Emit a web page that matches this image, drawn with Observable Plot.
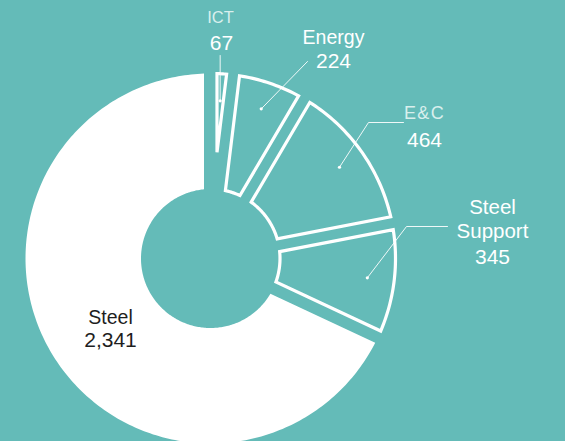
<!DOCTYPE html>
<html><head><meta charset="utf-8">
<script src="https://cdn.jsdelivr.net/npm/d3@7"></script>
<script src="https://cdn.jsdelivr.net/npm/@observablehq/plot@0.6"></script>
<style>
html,body{margin:0;padding:0;background:#64bbb8;}
#chart{width:565px;height:441px;overflow:hidden;}
</style></head><body><div id="chart"></div>
<script>
// ---- data ----
const categories = ["ICT", "Energy", "E&C", "Steel Support", "Steel"];
const values = [67, 224, 464, 345, 2341];
const nameLabels = ["ICT", "Energy", "E&C", "Steel\nSupport", "Steel"];
const valueLabels = ["67", "224", "464", "345", "2,341"];

// ---- layout ----
const W = 565, H = 441, CX = 210, CY = 258;
const R_OUT = 185, R_IN = 69.5, PAD = 6.5, R_DOT = 158;
const TEAL = "#64bbb8";
const FONT = "'Helvetica Neue', 'Liberation Sans', Arial, sans-serif";
const P = (px, py) => [px - CX, CY - py]; // pixel -> chart coordinates

// label annotation layout (pixel positions of text / leader elbows; null x = straight up from the dot)
const labelLayout = {
  "ICT":           {name: [220, 22], value: [221, 49], leader: [[null, 55]], nameSize: 16.5, nameFill: "#d9efed", fill: "white", spacing: 0},
  "Energy":        {name: [333, 43], value: [333, 67], leader: [[307, 61]], nameSize: 19.5, nameFill: "white", fill: "white", spacing: 0},
  "E&C":           {name: [424, 118], value: [424, 146], leader: [[368, 122], [403, 122]], nameSize: 18, nameFill: "#d9efed", fill: "white", spacing: 1.3},
  "Steel Support": {name: [492, 237], value: [492, 263], leader: [[406, 226], [447, 226]], nameSize: 20.5, nameFill: "white", fill: "white", spacing: 0},
  "Steel":         {name: [110, 323], value: [110, 346], leader: null, nameSize: 19.5, nameFill: "#1e1e1e", fill: "#1e1e1e", spacing: 0}
};

// ---- geometry from the values ----
const rows = categories.map((c, i) => ({category: c, value: values[i], i}));
const arcs = d3.pie().sort(null).value(d => d.value).startAngle(0).endAngle(2 * Math.PI)(rows);

function arcPolygon(a0, a1, r0, r1, pad) {
  const ring = [];
  const o0 = a0 + Math.asin(pad / r1), o1 = a1 - Math.asin(pad / r1);
  const N = Math.max(8, Math.ceil((o1 - o0) / (Math.PI / 180)));
  for (let k = 0; k <= N; k++) {
    const a = o0 + (o1 - o0) * k / N;
    ring.push([r1 * Math.sin(a), r1 * Math.cos(a)]);
  }
  const s = Math.min(1, pad / r0);
  const i0 = a0 + Math.asin(s), i1 = a1 - Math.asin(s);
  if (i1 > i0) {
    const M = Math.max(6, Math.ceil((i1 - i0) / (Math.PI / 180)));
    for (let k = M; k >= 0; k--) {
      const a = i0 + (i1 - i0) * k / M;
      ring.push([r0 * Math.sin(a), r0 * Math.cos(a)]);
    }
  } else {
    const am = (a0 + a1) / 2, rr = pad / Math.sin((a1 - a0) / 2);
    ring.push([rr * Math.sin(am), rr * Math.cos(am)]);
  }
  // start the closed path in the middle of the outer arc so no corner is a line end
  const m = Math.floor(N / 2);
  const rot = ring.slice(m).concat(ring.slice(0, m));
  rot.push(rot[0]);
  return rot;
}

const slicePts = arcs.flatMap(a =>
  arcPolygon(a.startAngle, a.endAngle, R_IN, R_OUT, PAD).map(([x, y]) => ({category: a.data.category, x, y}))
);

const dots = arcs.filter(a => labelLayout[a.data.category].leader).map(a => {
  const am = (a.startAngle + a.endAngle) / 2;
  return {category: a.data.category, x: R_DOT * Math.sin(am), y: R_DOT * Math.cos(am)};
});

const leaderPts = dots.flatMap(d => [
  {category: d.category, x: d.x, y: d.y},
  ...labelLayout[d.category].leader.map(([px, py]) => {
    const [x, y] = P(px == null ? d.x + CX : px, py);
    return {category: d.category, x, y};
  })
]);

const textMarks = categories.flatMap((c, i) => {
  const L = labelLayout[c];
  const [nx, ny] = P(...L.name), [vx, vy] = P(...L.value);
  return [
    Plot.text([{x: nx, y: ny, t: nameLabels[i]}], {x: "x", y: "y", text: "t", textAnchor: "middle", lineAnchor: "bottom",
      lineHeight: 1.17, fontSize: L.nameSize, fill: L.nameFill, fontFamily: FONT}),
    Plot.text([{x: vx, y: vy, t: valueLabels[i]}], {x: "x", y: "y", text: "t", textAnchor: "middle", lineAnchor: "bottom",
      fontSize: 21, fill: L.fill, fontFamily: FONT})
  ];
});

const chart = Plot.plot({
  width: W, height: H, margin: 0,
  x: {domain: [-CX, W - CX], axis: null},
  y: {domain: [CY - H, CY], axis: null},
  style: {background: TEAL, fontFamily: FONT, overflow: "hidden"},
  marks: [
    Plot.line(slicePts.filter(d => d.category === "Steel"), {x: "x", y: "y", z: "category", fill: "white", stroke: "none"}),
    Plot.line(slicePts.filter(d => d.category !== "Steel"), {x: "x", y: "y", z: "category", fill: TEAL, stroke: "white",
      strokeWidth: 3.2, strokeLinejoin: "miter", strokeMiterlimit: 10}),
    Plot.line(leaderPts, {x: "x", y: "y", z: "category", stroke: "white", strokeWidth: 0.9}),
    Plot.dot(dots, {x: "x", y: "y", r: 1.6, fill: "white", stroke: "none"}),
    ...textMarks
  ]
});
// letter-spacing for the spaced-out labels
categories.forEach((c, i) => {
  const sp = labelLayout[c].spacing;
  if (!sp) return;
  d3.select(chart).selectAll("text").filter(function () { return this.textContent === nameLabels[i]; })
    .attr("letter-spacing", sp + "px");
});
document.getElementById("chart").append(chart);
</script>
</body></html>
